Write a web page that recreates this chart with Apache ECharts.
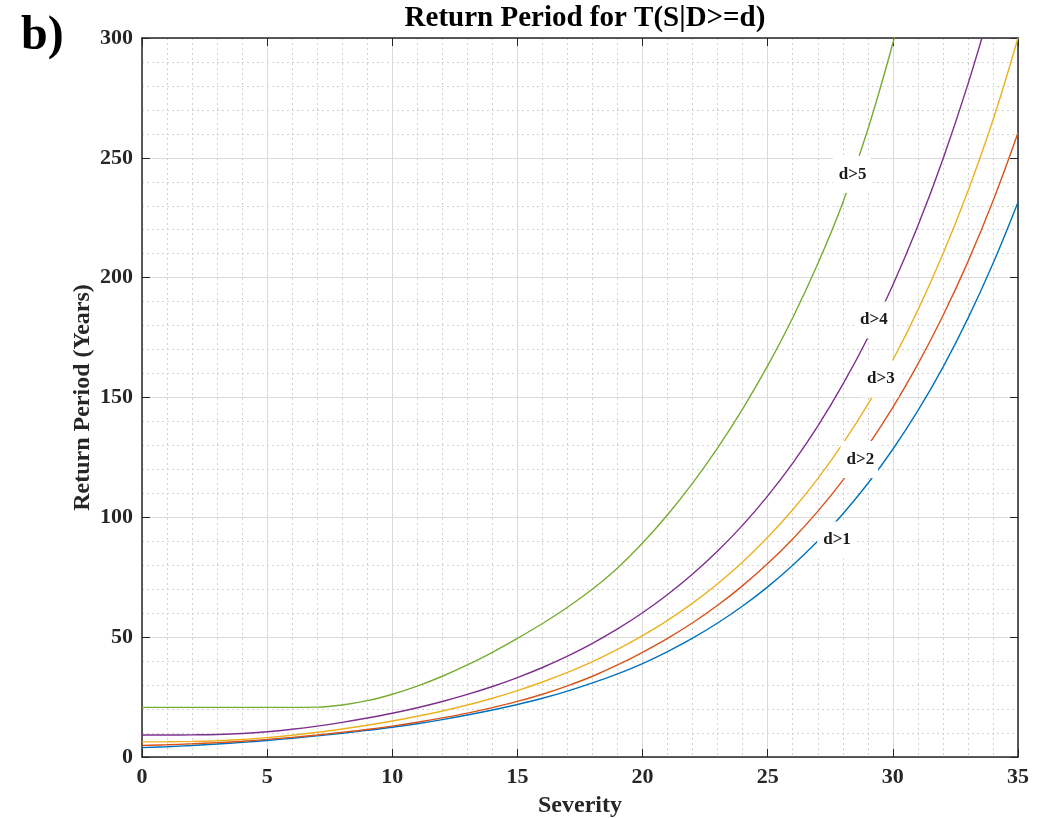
<!DOCTYPE html>
<html>
<head>
<meta charset="utf-8">
<title>Return Period for T(S|D>=d)</title>
<script src="https://cdn.jsdelivr.net/npm/echarts@6/dist/echarts.min.js"></script>
<style>
  html, body { margin: 0; padding: 0; background: #fff; }
  #chart { width: 1042px; height: 818px; }
</style>
</head>
<body>
<div id="chart"></div>
<script>
// --- data ---
var severity = [0, 1, 2, 3, 4, 5, 6, 7, 8, 9, 10, 11, 12, 13, 14, 15, 16, 17, 18, 19, 20,
                21, 22, 23, 24, 25, 26, 27, 28, 29, 30, 31, 32, 33, 34, 35];

var d1 = [3.9, 4.3, 4.8, 5.4, 6.1, 6.9, 7.8, 8.8, 9.9, 11.1, 12.4, 13.9, 15.6, 17.5, 19.6, 21.9,
          24.5, 27.5, 30.9, 34.7, 39, 44, 49.6, 55.9, 63, 71, 80, 90.1, 101.4, 114.1, 128.4, 144.5,
          162.6, 183, 205.9, 231.5];
var d2 = [4.8, 5.1, 5.5, 6.0, 6.6, 7.35, 8.2, 9.2, 10.3, 11.5, 12.9, 14.5, 16.3, 18.3, 20.6, 23.2,
          26.2, 29.7, 33.7, 38.4, 43.7, 49.5, 56, 63.3, 71.5, 80.7, 91, 102.5, 115.4, 129.8, 145.9, 163.9,
          184.1, 206.7, 232, 260.5];
var d3 = [6.3, 6.35, 6.5, 6.8, 7.3, 8.1, 9.1, 10.3, 11.7, 13.25, 15.0, 17.0, 19.2, 21.7, 24.5, 27.7,
          31.3, 35.3, 39.8, 44.9, 50.6, 57, 64.2, 72.3, 81.4, 91.65, 103.15, 116.15, 130.75, 147.15, 165.65, 186.45,
          209.85, 236.15, 265.75, 300];
var d4 = [9.2, 9.2, 9.25, 9.4, 9.8, 10.55, 11.6, 12.9, 14.45, 16.25, 18.25, 20.55, 23.15, 26.1, 29.4, 33.15,
          37.35, 42.1, 47.45, 53.45, 60.2, 67.8, 76.35, 85.95, 96.75, 108.95, 122.65, 138.05, 155.45, 174.95, 196.95, 221.65,
          249.45, 280.75, 315.95];
var d5 = [20.7, 20.7, 20.7, 20.7, 20.7, 20.7, 20.7, 20.8, 21.7, 23.5, 26.2, 29.6, 33.7, 38.4, 43.7, 49.5,
          55.7, 62.5, 70.1, 78.9, 89.3, 101.1, 114.3, 129, 145.3, 163.3, 183.3, 205.8, 231.3, 261.8, 297.8, 338];

var curveNames  = ['d>1', 'd>2', 'd>3', 'd>4', 'd>5'];
var curveColors = ['#0072BD', '#D95319', '#EDB120', '#7E2F8E', '#77AC30'];
var curveValues = [d1, d2, d3, d4, d5];

// inline curve labels (centre of each text)
var labelX = [27.73, 28.66, 29.48, 29.2, 28.35];
var labelY = [90.5, 124.1, 157.7, 182.3, 243.2];

var xTicks = { min: 0, max: 35, interval: 5 };
var yTicks = { min: 0, max: 300, interval: 50 };

var SERIF = '"Liberation Serif", "DejaVu Serif", serif';
var INK = '#262626';

function pairs(xs, ys) {
  var out = [];
  for (var i = 0; i < ys.length; i++) out.push([xs[i], ys[i]]);
  return out;
}

var chart = echarts.init(document.getElementById('chart'), null, { renderer: 'canvas' });

var series = curveValues.map(function(vals, i) {
  return {
    name: curveNames[i],
    type: 'line',
    data: pairs(severity, vals),
    smooth: 0.4,
    symbol: 'none',
    clip: true,
    lineStyle: { color: curveColors[i], width: 1.4 },
    itemStyle: { color: curveColors[i] },
    z: 2
  };
});

// curve labels sit on a white box that cuts the line, like MATLAB's clabel
series.push({
  name: 'labels',
  type: 'scatter',
  symbolSize: 1,
  itemStyle: { color: 'rgba(255,255,255,0)', opacity: 1 },
  z: 5,
  silent: true,
  data: curveNames.map(function(n, i) { return { name: n, value: [labelX[i], labelY[i]] }; }),
  label: {
    show: true,
    position: 'inside',
    formatter: '{b}',
    fontFamily: SERIF,
    fontWeight: 'bold',
    fontSize: 17,
    color: '#1a1a1a',
    opacity: 1,
    backgroundColor: '#fff',
    padding: [12, 4, 8, 6]
  }
});

var option = {
  animation: false,
  backgroundColor: '#fff',
  grid: { left: 142, right: 24, top: 38, bottom: 61, outerBoundsMode: 'none', containLabel: false },
  graphic: [
    { type: 'text', left: 21, top: 13,
      style: { text: 'b)', font: 'bold 48px ' + SERIF, fill: '#000' } },
    { type: 'text', x: 585, y: 19,
      style: { text: 'Return Period for T(S|D>=d)', font: 'bold 29px ' + SERIF, fill: '#000',
               align: 'center', verticalAlign: 'middle' } }
  ],
  xAxis: [{
    type: 'value', position: 'bottom',
    min: xTicks.min, max: xTicks.max, interval: xTicks.interval,
    name: 'Severity', nameLocation: 'middle', nameGap: 37, nameMoveOverlap: false,
    nameTextStyle: { fontFamily: SERIF, fontWeight: 'bold', fontSize: 24, color: INK },
    axisLine: { show: true, onZero: false, lineStyle: { color: INK, width: 1.5 } },
    axisTick: { show: true, inside: true, length: 8, lineStyle: { color: INK } },
    axisLabel: { fontFamily: SERIF, fontWeight: 'bold', fontSize: 22, color: INK, margin: 9 },
    splitLine: { show: true, lineStyle: { color: '#dadada', width: 1 } },
    minorTick: { show: false, splitNumber: 5 },
    minorSplitLine: { show: true, lineStyle: { color: '#d2d2d2', width: 1, type: [2, 3] } }
  }, {
    type: 'value', position: 'top',
    min: xTicks.min, max: xTicks.max, interval: xTicks.interval,
    axisLine: { show: true, onZero: false, lineStyle: { color: INK, width: 1.5 } },
    axisTick: { show: true, inside: true, length: 8, lineStyle: { color: INK } },
    axisLabel: { show: false },
    splitLine: { show: false }
  }],
  yAxis: [{
    type: 'value', position: 'left',
    min: yTicks.min, max: yTicks.max, interval: yTicks.interval,
    name: 'Return Period (Years)', nameLocation: 'middle', nameGap: 47, nameMoveOverlap: false,
    nameTextStyle: { fontFamily: SERIF, fontWeight: 'bold', fontSize: 24, color: INK },
    axisLine: { show: true, onZero: false, lineStyle: { color: INK, width: 1.5 } },
    axisTick: { show: true, inside: true, length: 8, lineStyle: { color: INK } },
    axisLabel: { fontFamily: SERIF, fontWeight: 'bold', fontSize: 22, color: INK, margin: 9 },
    splitLine: { show: true, lineStyle: { color: '#dadada', width: 1 } },
    minorTick: { show: false, splitNumber: 5 },
    minorSplitLine: { show: true, lineStyle: { color: '#d2d2d2', width: 1, type: [2, 3] } }
  }, {
    type: 'value', position: 'right',
    min: yTicks.min, max: yTicks.max, interval: yTicks.interval,
    axisLine: { show: true, onZero: false, lineStyle: { color: INK, width: 1.5 } },
    axisTick: { show: true, inside: true, length: 8, lineStyle: { color: INK } },
    axisLabel: { show: false },
    splitLine: { show: false }
  }],
  series: series
};

chart.setOption(option);
</script>
</body>
</html>
